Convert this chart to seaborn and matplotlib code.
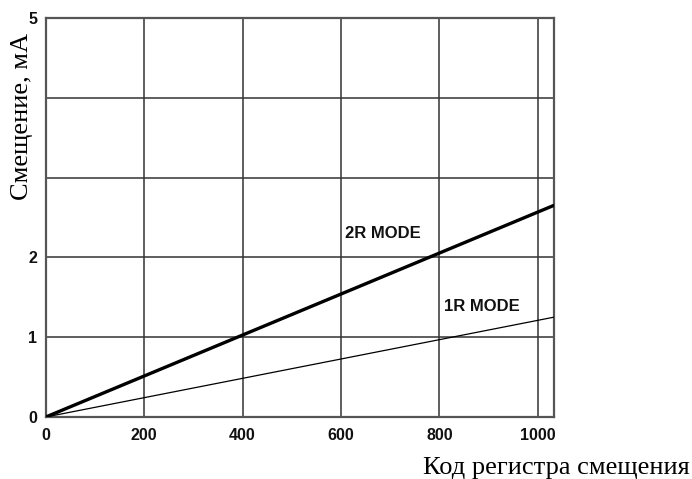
import matplotlib
matplotlib.use("Agg")
import matplotlib.pyplot as plt
import seaborn as sns
import pandas as pd

# Data
codes = [0, 1032]
bias_2r = [0.0, 2.65]
bias_1r = [0.0, 1.25]
x_ticks = [0, 200, 400, 600, 800, 1000]
y_ticks = [0, 1, 2, 3, 4, 5]
y_tick_labels = ["0", "1", "2", "", "", "5"]
mode_labels = ["2R MODE", "1R MODE"]
label_pos_x = [686, 886]
label_pos_y = [2.30, 1.38]

df = pd.DataFrame({
    "code": codes * 2,
    "bias": bias_2r + bias_1r,
    "mode": [mode_labels[0]] * 2 + [mode_labels[1]] * 2,
})

sns.set_theme(style="white")
plt.rcParams["font.family"] = ["Liberation Sans", "DejaVu Sans"]

fig = plt.figure(figsize=(6.92, 4.79), dpi=100)
ax = fig.add_axes([45.8 / 692, 1 - 417 / 479, (553.5 - 45.8) / 692, (417 - 18) / 479])

sns.lineplot(data=df, x="code", y="bias", hue="mode", size="mode",
             sizes={mode_labels[0]: 2.4, mode_labels[1]: 0.9},
             palette={mode_labels[0]: "black", mode_labels[1]: "black"},
             legend=False, ax=ax, zorder=3)

ax.set_xlim(0, 1032)
ax.set_ylim(0, 5)
ax.set_xticks(x_ticks)
ax.set_yticks(y_ticks)
ax.set_xticklabels([str(v) for v in x_ticks], fontweight="bold", fontsize=11.5, color="#111111")
ax.set_yticklabels(y_tick_labels, fontweight="bold", fontsize=11.5, color="#111111")
ax.tick_params(axis="both", length=0)
ax.tick_params(axis="x", pad=8)
ax.tick_params(axis="y", pad=6)
ax.grid(True, color="#333333", linewidth=1.1)
ax.set_axisbelow(True)
for s in ax.spines.values():
    s.set_visible(True)
    s.set_color("#555555")
    s.set_linewidth(1.6)
ax.set_xlabel("")
ax.set_ylabel("")

for txt, xx, yy in zip(mode_labels, label_pos_x, label_pos_y):
    ax.text(xx, yy, txt, ha="center", va="center", fontsize=12,
            fontweight="bold", color="#111111")

fig.text(690 / 692, 1 - 468 / 479, "Код регистра смещения", ha="right", va="center",
         fontsize=19, family=["Liberation Serif", "DejaVu Serif"], color="black")
fig.text(22 / 692, 1 - 116 / 479, "Смещение, мА", ha="center", va="center",
         rotation=90, fontsize=19, family=["Liberation Serif", "DejaVu Serif"], color="black")

fig.savefig("out.png", dpi=100)
